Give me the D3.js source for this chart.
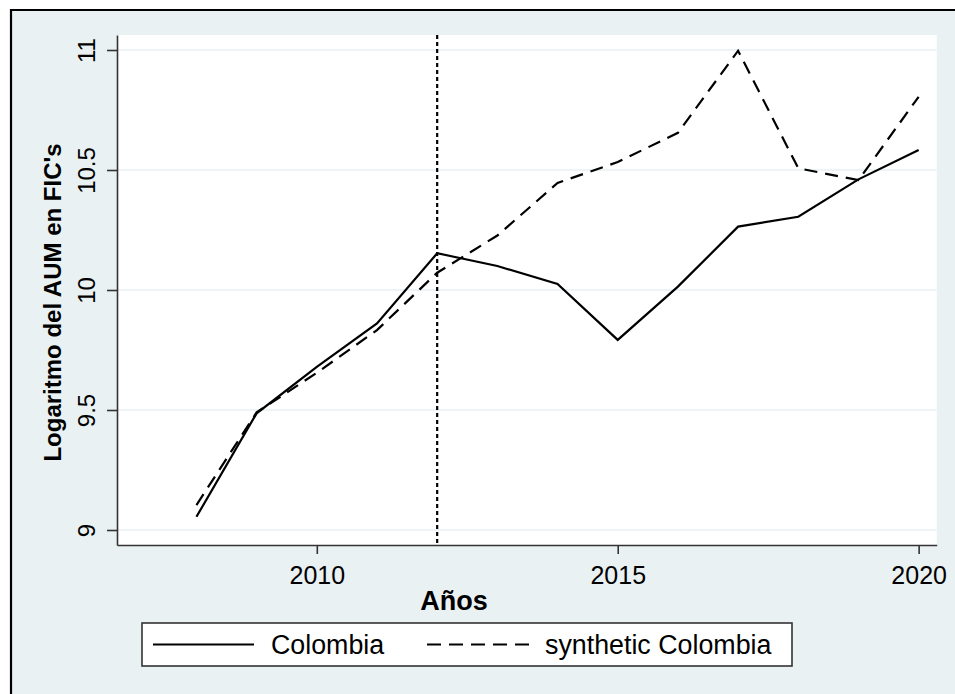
<!DOCTYPE html>
<html>
<head>
<meta charset="utf-8">
<script src="https://cdn.jsdelivr.net/npm/d3@7"></script>
<style>
  html, body { margin: 0; padding: 0; background: #ffffff; }
  svg { display: block; }
  text { font-family: "Liberation Sans", Arial, Helvetica, sans-serif; fill: #000; }
</style>
</head>
<body>
<svg id="chart" width="955" height="694"></svg>
<script>
// Years on the horizontal axis
const years = [2008, 2009, 2010, 2011, 2012, 2013, 2014, 2015, 2016, 2017, 2018, 2019, 2020];
// Log of assets under management in collective investment funds
const colombia = [9.055, 9.486, 9.68, 9.861, 10.153, 10.1, 10.025, 9.792, 10.014, 10.264, 10.305, 10.461, 10.583];
const synthetic = [9.104, 9.49, 9.655, 9.833, 10.072, 10.227, 10.446, 10.533, 10.655, 10.997, 10.507, 10.458, 10.805];
// Treatment year marked with the dotted reference line
const treatmentYear = 2012;
// Axis ticks
const xTicks = [2010, 2015, 2020];
const yTicks = [9, 9.5, 10, 10.5, 11];
// Labels
const seriesNames = ["Colombia", "synthetic Colombia"];
const xTitle = "Años";
const yTitle = "Logaritmo del AUM en FIC's";

const svg = d3.select("#chart");
const W = 955, H = 694;

// Graph region background with its top/left frame
svg.append("rect").attr("x", 11).attr("y", 10).attr("width", W - 11).attr("height", H - 10)
  .attr("fill", "#eaf1f3");
svg.append("path").attr("d", `M11,${H} L11,10 L${W},10`)
  .attr("fill", "none").attr("stroke", "#000").attr("stroke-width", 2.2);

// Plot area
const plot = { left: 117, right: 936.7, top: 35, bottom: 545 };
svg.append("rect").attr("x", plot.left).attr("y", plot.top)
  .attr("width", plot.right - plot.left).attr("height", plot.bottom - plot.top)
  .attr("fill", "#ffffff");

const x = d3.scaleLinear().domain([2006.68, 2020.3]).range([plot.left, plot.right]);
const y = d3.scaleLinear().domain([8.9375, 11.0625]).range([plot.bottom, plot.top]);

// Horizontal gridlines
svg.append("g").selectAll("line").data(yTicks).join("line")
  .attr("x1", plot.left).attr("x2", plot.right)
  .attr("y1", d => y(d)).attr("y2", d => y(d))
  .attr("stroke", "#e8eff2").attr("stroke-width", 1.6);

// Y axis
const yAxis = svg.append("g").attr("transform", `translate(${plot.left},0)`)
  .call(d3.axisLeft(y).tickValues(yTicks).tickSize(10).tickSizeOuter(0).tickFormat(d => String(d)));
yAxis.select(".domain").attr("stroke", "#333").attr("stroke-width", 1.6);
yAxis.selectAll(".tick line").attr("stroke", "#333").attr("stroke-width", 1.6);
yAxis.selectAll(".tick text")
  .attr("x", null).attr("dy", null)
  .attr("text-anchor", "middle")
  .attr("transform", "translate(-22,0) rotate(-90)")
  .style("font-size", "24px").attr("fill", "#000");

// X axis
const xAxis = svg.append("g").attr("transform", `translate(0,${plot.bottom})`)
  .call(d3.axisBottom(x).tickValues(xTicks).tickSize(9).tickSizeOuter(0).tickFormat(d3.format("d")));
xAxis.select(".domain").attr("stroke", "#333").attr("stroke-width", 1.6);
xAxis.selectAll(".tick line").attr("stroke", "#333").attr("stroke-width", 1.6);
xAxis.selectAll(".tick text")
  .attr("dy", null).attr("y", 39)
  .style("font-size", "25px").attr("fill", "#000");

// Axis titles
svg.append("text")
  .attr("transform", `translate(61,${(145 + 460) / 2}) rotate(-90)`)
  .attr("text-anchor", "middle")
  .style("font-size", "24px").style("font-weight", "bold")
  .text(yTitle);
svg.append("text")
  .attr("x", 454).attr("y", 610)
  .attr("text-anchor", "middle")
  .style("font-size", "27px").style("font-weight", "bold")
  .text(xTitle);

// Treatment reference line
svg.append("line")
  .attr("x1", x(treatmentYear)).attr("x2", x(treatmentYear))
  .attr("y1", plot.top).attr("y2", plot.bottom)
  .attr("stroke", "#000").attr("stroke-width", 2.2).attr("stroke-dasharray", "4,3");

// Series lines
const line = d3.line().x((d, i) => x(years[i])).y(d => y(d));
svg.append("path").datum(colombia).attr("d", line)
  .attr("fill", "none").attr("stroke", "#000").attr("stroke-width", 2.2)
  .attr("stroke-linejoin", "miter");
svg.append("path").datum(synthetic).attr("d", line)
  .attr("fill", "none").attr("stroke", "#000").attr("stroke-width", 2.2)
  .attr("stroke-dasharray", "13,8");

// Legend
const lg = svg.append("g");
lg.append("rect").attr("x", 142).attr("y", 623).attr("width", 650).attr("height", 43)
  .attr("fill", "#fff").attr("stroke", "#333").attr("stroke-width", 1.6);
const legendItems = [
  { name: seriesNames[0], x1: 153, x2: 254, tx: 271, dash: null },
  { name: seriesNames[1], x1: 427, x2: 530, tx: 545, dash: "14,8" }
];
legendItems.forEach(it => {
  lg.append("line").attr("x1", it.x1).attr("x2", it.x2).attr("y1", 644.5).attr("y2", 644.5)
    .attr("stroke", "#000").attr("stroke-width", 2.2)
    .attr("stroke-dasharray", it.dash);
  lg.append("text").attr("x", it.tx).attr("y", 653.5)
    .style("font-size", "26.8px").text(it.name);
});
</script>
</body>
</html>
